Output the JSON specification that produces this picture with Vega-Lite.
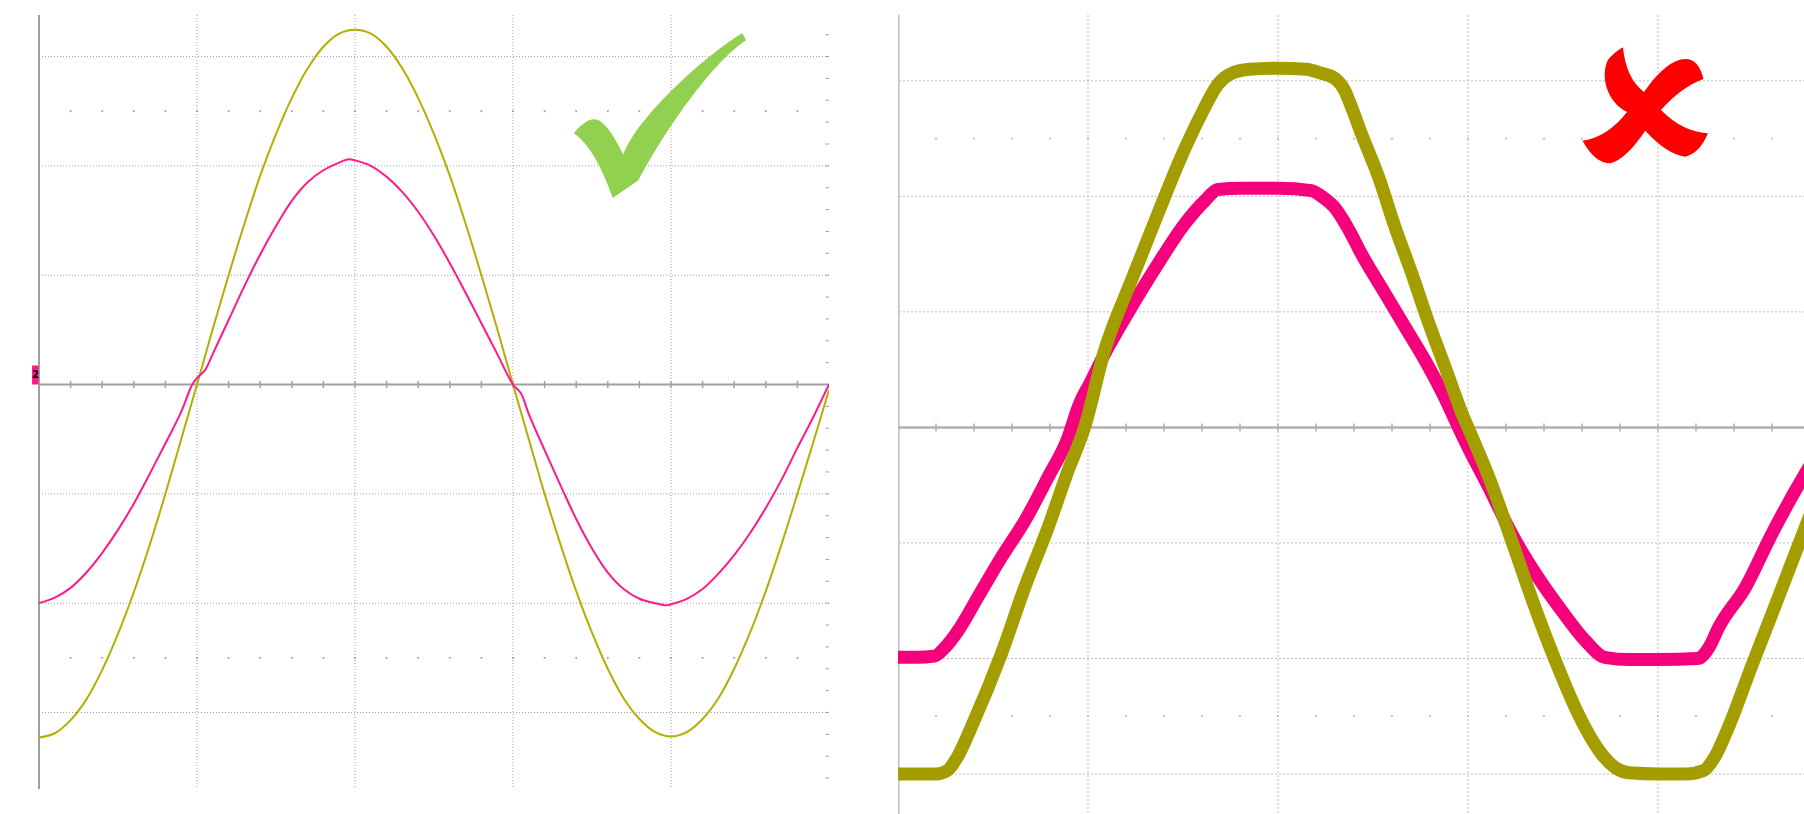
{
  "$schema": "https://vega.github.io/schema/vega-lite/v6.json",
  "background": "white",
  "padding": {"left": 31, "top": 14, "right": 0, "bottom": 0},
  "spacing": 69,
  "config": {"view": {"stroke": null}},
  "datasets": {
    "gx": [{"g": 1}, {"g": 2}, {"g": 3}, {"g": 4}],
    "gy": [{"g": -3}, {"g": -2}, {"g": -1}, {"g": 1}, {"g": 2}, {"g": 3}],
    "mx": [{"m": 0.2}, {"m": 0.4}, {"m": 0.6}, {"m": 0.8}, {"m": 1}, {"m": 1.2}, {"m": 1.4}, {"m": 1.6}, {"m": 1.8}, {"m": 2}, {"m": 2.2}, {"m": 2.4}, {"m": 2.6}, {"m": 2.8}, {"m": 3}, {"m": 3.2}, {"m": 3.4}, {"m": 3.6}, {"m": 3.8}, {"m": 4}, {"m": 4.2}, {"m": 4.4}, {"m": 4.6}, {"m": 4.8}],
    "my": [{"m": -3.6}, {"m": -3.4}, {"m": -3.2}, {"m": -3}, {"m": -2.8}, {"m": -2.6}, {"m": -2.4}, {"m": -2.2}, {"m": -2}, {"m": -1.8}, {"m": -1.6}, {"m": -1.4}, {"m": -1.2}, {"m": -1}, {"m": -0.8}, {"m": -0.6}, {"m": -0.4}, {"m": -0.2}, {"m": 0.2}, {"m": 0.4}, {"m": 0.6}, {"m": 0.8}, {"m": 1}, {"m": 1.2}, {"m": 1.4}, {"m": 1.6}, {"m": 1.8}, {"m": 2}, {"m": 2.2}, {"m": 2.4}, {"m": 2.6}, {"m": 2.8}, {"m": 3}, {"m": 3.2}],
    "left": [
      {"t": 0, "v": -3.23, "ch": "Y"}, {"t": 0.1, "v": -3.19, "ch": "Y"}, {"t": 0.2, "v": -3.07, "ch": "Y"}, {"t": 0.3, "v": -2.88, "ch": "Y"}, {"t": 0.4, "v": -2.61, "ch": "Y"}, {"t": 0.5, "v": -2.28, "ch": "Y"}, {"t": 0.6, "v": -1.9, "ch": "Y"}, {"t": 0.7, "v": -1.47, "ch": "Y"}, {"t": 0.8, "v": -1.0, "ch": "Y"}, {"t": 0.9, "v": -0.5, "ch": "Y"},
      {"t": 1.0, "v": 0.0, "ch": "Y"}, {"t": 1.1, "v": 0.51, "ch": "Y"}, {"t": 1.2, "v": 1.0, "ch": "Y"}, {"t": 1.3, "v": 1.47, "ch": "Y"}, {"t": 1.4, "v": 1.91, "ch": "Y"}, {"t": 1.5, "v": 2.29, "ch": "Y"}, {"t": 1.6, "v": 2.62, "ch": "Y"}, {"t": 1.7, "v": 2.89, "ch": "Y"}, {"t": 1.8, "v": 3.09, "ch": "Y"}, {"t": 1.9, "v": 3.21, "ch": "Y"},
      {"t": 2.0, "v": 3.245, "ch": "Y"}, {"t": 2.1, "v": 3.21, "ch": "Y"}, {"t": 2.2, "v": 3.09, "ch": "Y"}, {"t": 2.3, "v": 2.89, "ch": "Y"}, {"t": 2.4, "v": 2.62, "ch": "Y"}, {"t": 2.5, "v": 2.29, "ch": "Y"}, {"t": 2.6, "v": 1.91, "ch": "Y"}, {"t": 2.7, "v": 1.47, "ch": "Y"}, {"t": 2.8, "v": 1.0, "ch": "Y"}, {"t": 2.9, "v": 0.51, "ch": "Y"},
      {"t": 3.0, "v": 0.0, "ch": "Y"}, {"t": 3.1, "v": -0.5, "ch": "Y"}, {"t": 3.2, "v": -1.0, "ch": "Y"}, {"t": 3.3, "v": -1.46, "ch": "Y"}, {"t": 3.4, "v": -1.89, "ch": "Y"}, {"t": 3.5, "v": -2.27, "ch": "Y"}, {"t": 3.6, "v": -2.6, "ch": "Y"}, {"t": 3.7, "v": -2.87, "ch": "Y"}, {"t": 3.8, "v": -3.06, "ch": "Y"}, {"t": 3.9, "v": -3.18, "ch": "Y"},
      {"t": 4.0, "v": -3.22, "ch": "Y"}, {"t": 4.1, "v": -3.18, "ch": "Y"}, {"t": 4.2, "v": -3.06, "ch": "Y"}, {"t": 4.3, "v": -2.87, "ch": "Y"}, {"t": 4.4, "v": -2.6, "ch": "Y"}, {"t": 4.5, "v": -2.27, "ch": "Y"}, {"t": 4.6, "v": -1.89, "ch": "Y"}, {"t": 4.7, "v": -1.46, "ch": "Y"}, {"t": 4.8, "v": -1.0, "ch": "Y"}, {"t": 4.9, "v": -0.53, "ch": "Y"}, {"t": 5.0, "v": -0.05, "ch": "Y"},
      {"t": 0, "v": -2.0, "ch": "M"}, {"t": 0.1, "v": -1.95, "ch": "M"}, {"t": 0.2, "v": -1.86, "ch": "M"}, {"t": 0.3, "v": -1.72, "ch": "M"}, {"t": 0.4, "v": -1.54, "ch": "M"}, {"t": 0.5, "v": -1.33, "ch": "M"}, {"t": 0.6, "v": -1.09, "ch": "M"}, {"t": 0.7, "v": -0.82, "ch": "M"}, {"t": 0.8, "v": -0.54, "ch": "M"}, {"t": 0.9, "v": -0.25, "ch": "M"},
      {"t": 0.97, "v": 0.0, "ch": "M"}, {"t": 1.0, "v": 0.06, "ch": "M"}, {"t": 1.05, "v": 0.13, "ch": "M"}, {"t": 1.1, "v": 0.28, "ch": "M"}, {"t": 1.2, "v": 0.59, "ch": "M"}, {"t": 1.3, "v": 0.9, "ch": "M"}, {"t": 1.4, "v": 1.19, "ch": "M"}, {"t": 1.5, "v": 1.45, "ch": "M"}, {"t": 1.6, "v": 1.68, "ch": "M"}, {"t": 1.7, "v": 1.85, "ch": "M"}, {"t": 1.8, "v": 1.96, "ch": "M"}, {"t": 1.9, "v": 2.03, "ch": "M"},
      {"t": 1.96, "v": 2.06, "ch": "M"}, {"t": 2.0, "v": 2.05, "ch": "M"}, {"t": 2.1, "v": 2.0, "ch": "M"}, {"t": 2.2, "v": 1.9, "ch": "M"}, {"t": 2.3, "v": 1.76, "ch": "M"}, {"t": 2.4, "v": 1.58, "ch": "M"}, {"t": 2.5, "v": 1.36, "ch": "M"}, {"t": 2.6, "v": 1.11, "ch": "M"}, {"t": 2.7, "v": 0.84, "ch": "M"}, {"t": 2.8, "v": 0.56, "ch": "M"}, {"t": 2.9, "v": 0.28, "ch": "M"},
      {"t": 3.0, "v": 0.0, "ch": "M"}, {"t": 3.05, "v": -0.08, "ch": "M"}, {"t": 3.1, "v": -0.27, "ch": "M"}, {"t": 3.2, "v": -0.6, "ch": "M"}, {"t": 3.3, "v": -0.92, "ch": "M"}, {"t": 3.4, "v": -1.23, "ch": "M"}, {"t": 3.5, "v": -1.5, "ch": "M"}, {"t": 3.6, "v": -1.72, "ch": "M"}, {"t": 3.7, "v": -1.87, "ch": "M"}, {"t": 3.8, "v": -1.96, "ch": "M"}, {"t": 3.9, "v": -2.0, "ch": "M"},
      {"t": 3.97, "v": -2.02, "ch": "M"}, {"t": 4.0, "v": -2.01, "ch": "M"}, {"t": 4.1, "v": -1.96, "ch": "M"}, {"t": 4.2, "v": -1.87, "ch": "M"}, {"t": 4.3, "v": -1.73, "ch": "M"}, {"t": 4.4, "v": -1.56, "ch": "M"}, {"t": 4.5, "v": -1.36, "ch": "M"}, {"t": 4.6, "v": -1.13, "ch": "M"}, {"t": 4.7, "v": -0.87, "ch": "M"}, {"t": 4.8, "v": -0.58, "ch": "M"}, {"t": 4.9, "v": -0.3, "ch": "M"}, {"t": 5.0, "v": 0.0, "ch": "M"}
    ],
    "right": [
      {"t": 0, "v": -3.0, "ch": "Y"}, {"t": 0.1, "v": -3.0, "ch": "Y"}, {"t": 0.2, "v": -3.0, "ch": "Y"}, {"t": 0.26, "v": -2.97, "ch": "Y"}, {"t": 0.31, "v": -2.86, "ch": "Y"}, {"t": 0.4, "v": -2.54, "ch": "Y"}, {"t": 0.544, "v": -1.96, "ch": "Y"}, {"t": 0.667, "v": -1.385, "ch": "Y"}, {"t": 0.79, "v": -0.866, "ch": "Y"}, {"t": 0.895, "v": -0.375, "ch": "Y"}, {"t": 0.982, "v": 0.0, "ch": "Y"},
      {"t": 1.087, "v": 0.664, "ch": "Y"}, {"t": 1.228, "v": 1.27, "ch": "Y"}, {"t": 1.368, "v": 1.85, "ch": "Y"}, {"t": 1.49, "v": 2.34, "ch": "Y"}, {"t": 1.596, "v": 2.71, "ch": "Y"}, {"t": 1.684, "v": 2.97, "ch": "Y"}, {"t": 1.75, "v": 3.06, "ch": "Y"}, {"t": 1.85, "v": 3.1, "ch": "Y"}, {"t": 2.0, "v": 3.11, "ch": "Y"}, {"t": 2.15, "v": 3.1, "ch": "Y"}, {"t": 2.22, "v": 3.07, "ch": "Y"},
      {"t": 2.3, "v": 3.02, "ch": "Y"}, {"t": 2.35, "v": 2.92, "ch": "Y"}, {"t": 2.39, "v": 2.76, "ch": "Y"}, {"t": 2.44, "v": 2.54, "ch": "Y"}, {"t": 2.53, "v": 2.165, "ch": "Y"}, {"t": 2.617, "v": 1.73, "ch": "Y"}, {"t": 2.705, "v": 1.33, "ch": "Y"}, {"t": 2.79, "v": 0.92, "ch": "Y"}, {"t": 2.88, "v": 0.52, "ch": "Y"}, {"t": 2.977, "v": 0.087, "ch": "Y"}, {"t": 3.0, "v": 0.0, "ch": "Y"},
      {"t": 3.11, "v": -0.43, "ch": "Y"}, {"t": 3.23, "v": -0.98, "ch": "Y"}, {"t": 3.34, "v": -1.5, "ch": "Y"}, {"t": 3.46, "v": -2.02, "ch": "Y"}, {"t": 3.58, "v": -2.48, "ch": "Y"}, {"t": 3.705, "v": -2.83, "ch": "Y"}, {"t": 3.78, "v": -2.95, "ch": "Y"}, {"t": 3.85, "v": -2.99, "ch": "Y"}, {"t": 4.0, "v": -3.0, "ch": "Y"}, {"t": 4.15, "v": -3.0, "ch": "Y"}, {"t": 4.24, "v": -2.97, "ch": "Y"},
      {"t": 4.3, "v": -2.85, "ch": "Y"}, {"t": 4.37, "v": -2.6, "ch": "Y"}, {"t": 4.49, "v": -2.08, "ch": "Y"}, {"t": 4.62, "v": -1.53, "ch": "Y"}, {"t": 4.775, "v": -0.866, "ch": "Y"}, {"t": 4.85, "v": -0.55, "ch": "Y"},
      {"t": 0, "v": -1.99, "ch": "M"}, {"t": 0.1, "v": -1.99, "ch": "M"}, {"t": 0.19, "v": -1.98, "ch": "M"}, {"t": 0.25, "v": -1.9, "ch": "M"}, {"t": 0.316, "v": -1.76, "ch": "M"}, {"t": 0.42, "v": -1.47, "ch": "M"}, {"t": 0.544, "v": -1.125, "ch": "M"}, {"t": 0.667, "v": -0.81, "ch": "M"}, {"t": 0.79, "v": -0.43, "ch": "M"}, {"t": 0.895, "v": -0.087, "ch": "M"},
      {"t": 0.947, "v": 0.17, "ch": "M"}, {"t": 0.97, "v": 0.26, "ch": "M"}, {"t": 1.0, "v": 0.35, "ch": "M"}, {"t": 1.087, "v": 0.635, "ch": "M"}, {"t": 1.228, "v": 1.04, "ch": "M"}, {"t": 1.368, "v": 1.415, "ch": "M"}, {"t": 1.508, "v": 1.76, "ch": "M"}, {"t": 1.614, "v": 1.96, "ch": "M"}, {"t": 1.684, "v": 2.06, "ch": "M"}, {"t": 1.8, "v": 2.07, "ch": "M"}, {"t": 2.0, "v": 2.07, "ch": "M"},
      {"t": 2.175, "v": 2.05, "ch": "M"}, {"t": 2.23, "v": 2.0, "ch": "M"}, {"t": 2.3, "v": 1.9, "ch": "M"}, {"t": 2.37, "v": 1.72, "ch": "M"}, {"t": 2.44, "v": 1.5, "ch": "M"}, {"t": 2.565, "v": 1.155, "ch": "M"}, {"t": 2.67, "v": 0.866, "ch": "M"}, {"t": 2.775, "v": 0.577, "ch": "M"}, {"t": 2.88, "v": 0.25, "ch": "M"}, {"t": 2.95, "v": 0.0, "ch": "M"},
      {"t": 3.0, "v": -0.17, "ch": "M"}, {"t": 3.11, "v": -0.52, "ch": "M"}, {"t": 3.23, "v": -0.92, "ch": "M"}, {"t": 3.37, "v": -1.3, "ch": "M"}, {"t": 3.495, "v": -1.59, "ch": "M"}, {"t": 3.62, "v": -1.85, "ch": "M"}, {"t": 3.72, "v": -1.99, "ch": "M"}, {"t": 3.85, "v": -2.01, "ch": "M"}, {"t": 4.0, "v": -2.01, "ch": "M"}, {"t": 4.21, "v": -2.0, "ch": "M"},
      {"t": 4.27, "v": -1.9, "ch": "M"}, {"t": 4.32, "v": -1.73, "ch": "M"}, {"t": 4.46, "v": -1.385, "ch": "M"}, {"t": 4.6, "v": -0.92, "ch": "M"}, {"t": 4.775, "v": -0.4, "ch": "M"}, {"t": 4.85, "v": -0.2, "ch": "M"}
    ],
    "marks": [{"label": "good", "t": 3.93, "v": 2.455}, {"label": "bad", "t": 3.933, "v": 2.785}],
    "flag": [{"ch": "2"}]
  },
  "hconcat": [
    {
      "width": 790,
      "height": 774,
      "layer": [
        {"data": {"name": "gx"}, "mark": {"type": "rule", "color": "#9c9c9c", "strokeWidth": 1, "strokeDash": [1, 2], "clip": true},
         "encoding": {"x": {"field": "g", "type": "quantitative", "scale": {"domain": [0, 5], "nice": false, "zero": false}, "axis": null}}},
        {"data": {"name": "gy"}, "mark": {"type": "rule", "color": "#9c9c9c", "strokeWidth": 1, "strokeDash": [1, 2], "clip": true},
         "encoding": {"y": {"field": "g", "type": "quantitative", "scale": {"domain": [-3.7, 3.38], "nice": false, "zero": false}, "axis": null}}},
        {"data": {"name": "mx"}, "mark": {"type": "point", "shape": "square", "size": 3, "filled": true, "color": "#999999", "opacity": 1, "clip": true},
         "encoding": {"x": {"field": "m", "type": "quantitative", "axis": null}, "y": {"datum": 2.5, "type": "quantitative"}}},
        {"data": {"name": "mx"}, "mark": {"type": "point", "shape": "square", "size": 3, "filled": true, "color": "#999999", "opacity": 1, "clip": true},
         "encoding": {"x": {"field": "m", "type": "quantitative", "axis": null}, "y": {"datum": -2.5, "type": "quantitative"}}},
        {"data": {"values": [{}]}, "mark": {"type": "rule", "color": "#a0a0a0", "strokeWidth": 2},
         "encoding": {"x": {"datum": 0, "type": "quantitative"}}},
        {"data": {"values": [{}]}, "mark": {"type": "rule", "color": "#a0a0a0", "strokeWidth": 2, "clip": true},
         "encoding": {"y": {"datum": 0, "type": "quantitative"}}},
        {"data": {"name": "mx"}, "mark": {"type": "rule", "color": "#a0a0a0", "strokeWidth": 1.5, "clip": true},
         "encoding": {"x": {"field": "m", "type": "quantitative"}, "y": {"datum": -0.032, "type": "quantitative"}, "y2": {"datum": 0.032}}},
        {"data": {"name": "my"}, "mark": {"type": "rule", "color": "#a0a0a0", "strokeWidth": 1, "clip": true},
         "encoding": {"y": {"field": "m", "type": "quantitative"}, "x": {"datum": 4.978, "type": "quantitative"}, "x2": {"datum": 5.0}}},
        {"data": {"name": "left"}, "transform": [{"filter": "datum.ch === 'Y'"}],
         "mark": {"type": "line", "color": "#b4ae00", "strokeWidth": 2, "interpolate": "catmull-rom", "clip": true},
         "encoding": {"x": {"field": "t", "type": "quantitative"}, "y": {"field": "v", "type": "quantitative"}}},
        {"data": {"name": "left"}, "transform": [{"filter": "datum.ch === 'M'"}],
         "mark": {"type": "line", "color": "#ff1a8c", "strokeWidth": 2, "interpolate": "catmull-rom", "clip": true},
         "encoding": {"x": {"field": "t", "type": "quantitative"}, "y": {"field": "v", "type": "quantitative"}}},
        {"data": {"name": "marks"}, "transform": [{"filter": "datum.label === 'good'"}],
         "mark": {"type": "point", "filled": true, "opacity": 1, "color": "#92d050", "strokeWidth": 0, "size": 29722,
                  "shape": "M-1,0.2 C-0.92,0.1 -0.82,0.02 -0.74,0.04 C-0.64,0.06 -0.52,0.25 -0.425,0.448 C-0.26,0.0 0.55,-0.72 0.955,-0.96 L1,-0.88 C0.62,-0.64 0.06,0.16 -0.25,0.745 L-0.548,0.951 C-0.64,0.68 -0.8,0.33 -1,0.2 Z"},
         "encoding": {"x": {"field": "t", "type": "quantitative"}, "y": {"field": "v", "type": "quantitative"}}},
        {"data": {"name": "flag"}, "mark": {"type": "rect", "color": "#ff1a8c"},
         "encoding": {"x": {"datum": -0.044, "type": "quantitative"}, "x2": {"datum": -0.003}, "y": {"datum": 0, "type": "quantitative"}, "y2": {"datum": 0.174}}},
        {"data": {"name": "flag"}, "mark": {"type": "text", "font": "DejaVu Sans", "fontSize": 10, "fontWeight": "bold", "color": "#000000", "align": "center", "baseline": "middle"},
         "encoding": {"x": {"datum": -0.023, "type": "quantitative"}, "y": {"datum": 0.087, "type": "quantitative"}, "text": {"field": "ch"}}}
      ]
    },
    {
      "width": 907,
      "height": 800,
      "layer": [
        {"data": {"name": "gx"}, "mark": {"type": "rule", "color": "#bdbdbd", "strokeWidth": 1, "strokeDash": [2, 2], "clip": true},
         "encoding": {"x": {"field": "g", "type": "quantitative", "scale": {"domain": [0, 4.774], "nice": false, "zero": false}, "axis": null}}},
        {"data": {"name": "gy"}, "mark": {"type": "rule", "color": "#bdbdbd", "strokeWidth": 1, "strokeDash": [2, 2], "clip": true},
         "encoding": {"y": {"field": "g", "type": "quantitative", "scale": {"domain": [-3.355, 3.57], "nice": false, "zero": false}, "axis": null}}},
        {"data": {"name": "mx"}, "mark": {"type": "point", "shape": "square", "size": 3, "filled": true, "color": "#b5b5b5", "opacity": 1, "clip": true},
         "encoding": {"x": {"field": "m", "type": "quantitative", "axis": null}, "y": {"datum": 2.5, "type": "quantitative"}}},
        {"data": {"name": "mx"}, "mark": {"type": "point", "shape": "square", "size": 3, "filled": true, "color": "#b5b5b5", "opacity": 1, "clip": true},
         "encoding": {"x": {"field": "m", "type": "quantitative", "axis": null}, "y": {"datum": -2.5, "type": "quantitative"}}},
        {"data": {"values": [{}]}, "mark": {"type": "rule", "color": "#c8c8c8", "strokeWidth": 2, "clip": true},
         "encoding": {"x": {"datum": 0.004, "type": "quantitative"}}},
        {"data": {"values": [{}]}, "mark": {"type": "rule", "color": "#b0b0b0", "strokeWidth": 2.5, "clip": true},
         "encoding": {"y": {"datum": 0, "type": "quantitative"}}},
        {"data": {"name": "mx"}, "mark": {"type": "rule", "color": "#b0b0b0", "strokeWidth": 1.5, "clip": true},
         "encoding": {"x": {"field": "m", "type": "quantitative"}, "y": {"datum": -0.035, "type": "quantitative"}, "y2": {"datum": 0.035}}},
        {"data": {"name": "right"}, "transform": [{"filter": "datum.ch === 'M'"}],
         "mark": {"type": "line", "color": "#f5007d", "strokeWidth": 13, "interpolate": "monotone", "clip": true},
         "encoding": {"x": {"field": "t", "type": "quantitative"}, "y": {"field": "v", "type": "quantitative"}}},
        {"data": {"name": "right"}, "transform": [{"filter": "datum.ch === 'Y'"}],
         "mark": {"type": "line", "color": "#a39d00", "strokeWidth": 13, "interpolate": "monotone", "clip": true},
         "encoding": {"x": {"field": "t", "type": "quantitative"}, "y": {"field": "v", "type": "quantitative"}}},
        {"data": {"name": "marks"}, "transform": [{"filter": "datum.label === 'bad'"}],
         "mark": {"type": "point", "filled": true, "opacity": 1, "color": "#ff0000", "strokeWidth": 0, "size": 15725,
                  "shape": "M-0.356,-0.93 Q-0.3,-0.42 -0.02,-0.22 Q0.35,-0.74 0.638,-0.744 Q0.85,-0.75 0.93,-0.425 Q0.58,-0.3 0.25,0.07 Q0.6,0.42 1,0.441 Q0.87,0.76 0.638,0.813 Q0.35,0.78 0,0.4 Q-0.3,0.85 -0.558,0.92 Q-0.8,0.92 -1,0.558 Q-0.6,0.5 -0.29,0.1 C-0.6,-0.05 -0.72,-0.45 -0.6,-0.72 Q-0.5,-0.85 -0.356,-0.93 Z"},
         "encoding": {"x": {"field": "t", "type": "quantitative"}, "y": {"field": "v", "type": "quantitative"}}}
      ]
    }
  ]
}
